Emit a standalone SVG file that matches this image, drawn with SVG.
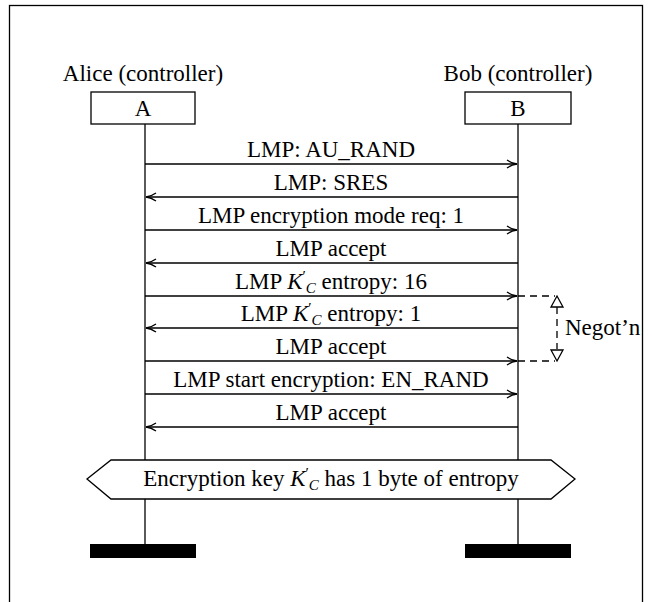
<svg xmlns="http://www.w3.org/2000/svg" width="652" height="602" viewBox="0 0 652 602">
<defs>
<style>
.t{text-anchor:middle}
.ln{stroke:#000;stroke-width:1.3;fill:none}
.msg{stroke:#000;stroke-width:1.3;fill:none;marker-end:url(#ah)}
.dash{stroke:#000;stroke-width:1.3;fill:none;stroke-dasharray:7 5}
.box{fill:#fff;stroke:#000;stroke-width:1.3}
.bar{fill:#000}
.it{font-style:italic}
.sb{font-size:15px}
</style>
<marker id="ah" viewBox="0 0 12 10" refX="11" refY="5" markerWidth="12" markerHeight="10" markerUnits="userSpaceOnUse" orient="auto">
<path d="M1,1 Q6,4.5 11,5 Q6,5.5 1,9" fill="none" stroke="#000" stroke-width="1.3"/>
</marker>
</defs>
<rect x="9.5" y="5.5" width="633" height="610" fill="#fff" stroke="#000" stroke-width="1.3"/>
<g font-family="Liberation Serif, Times New Roman, serif" font-size="23" fill="#000">
<g id="lifelines">
<line class="ln" x1="145" y1="124" x2="145" y2="544"/>
<line class="ln" x1="518" y1="124" x2="518" y2="544"/>
</g>
<g id="alice">
<text class="t" x="143" y="81">Alice (controller)</text>
<rect class="box" x="91" y="92" width="104" height="32"/>
<text class="t" x="143" y="116">A</text>
<rect class="bar" x="90" y="544" width="106" height="14"/>
</g>
<g id="bob">
<text class="t" x="518" y="81">Bob (controller)</text>
<rect class="box" x="465" y="92" width="106" height="32"/>
<text class="t" x="518" y="116">B</text>
<rect class="bar" x="465" y="544" width="106" height="14"/>
</g>
<g id="connectors">
<line class="msg" x1="145" y1="164" x2="517" y2="164"/>
<line class="msg" x1="518" y1="197" x2="146" y2="197"/>
<line class="msg" x1="145" y1="230" x2="517" y2="230"/>
<line class="msg" x1="518" y1="263" x2="146" y2="263"/>
<line class="msg" x1="145" y1="296" x2="517" y2="296"/>
<line class="msg" x1="518" y1="328" x2="146" y2="328"/>
<line class="msg" x1="145" y1="361" x2="517" y2="361"/>
<line class="msg" x1="145" y1="394" x2="517" y2="394"/>
<line class="msg" x1="518" y1="427" x2="146" y2="427"/>
</g>
<g id="labels">
<text class="t" x="331" y="157">LMP: AU_RAND</text>
<text class="t" x="331" y="190">LMP: SRES</text>
<text class="t" x="331" y="223">LMP encryption mode req: 1</text>
<text class="t" x="331" y="256">LMP accept</text>
<text class="t" x="331" y="289">LMP <tspan class="it">K</tspan><tspan class="sb" dy="-8">′</tspan><tspan class="it sb" dy="12">C</tspan><tspan dy="-4"> entropy: 16</tspan></text>
<text class="t" x="331" y="321">LMP <tspan class="it">K</tspan><tspan class="sb" dy="-8">′</tspan><tspan class="it sb" dy="12">C</tspan><tspan dy="-4"> entropy: 1</tspan></text>
<text class="t" x="331" y="354">LMP accept</text>
<text class="t" x="331" y="387">LMP start encryption: EN_RAND</text>
<text class="t" x="331" y="420">LMP accept</text>
</g>
<g id="negotiation">
<line class="dash" x1="518" y1="296" x2="555" y2="296"/>
<line class="dash" x1="518" y1="361" x2="555" y2="361"/>
<line class="dash" x1="557" y1="307" x2="557" y2="349"/>
<path d="M557,296 L563,307 L551,307 Z" fill="#fff" stroke="#000" stroke-width="1.3"/>
<path d="M557,361 L563,350 L551,350 Z" fill="#fff" stroke="#000" stroke-width="1.3"/>
<text x="565" y="335">Negot’n</text>
</g>
<g id="note">
<path class="box" d="M87,479 L111,460 L551,460 L575,479 L551,499 L111,499 Z"/>
<text class="t" x="331" y="486">Encryption key <tspan class="it">K</tspan><tspan class="sb" dy="-8">′</tspan><tspan class="it sb" dy="12">C</tspan><tspan dy="-4"> has 1 byte of entropy</tspan></text>
</g>
</g>
</svg>
